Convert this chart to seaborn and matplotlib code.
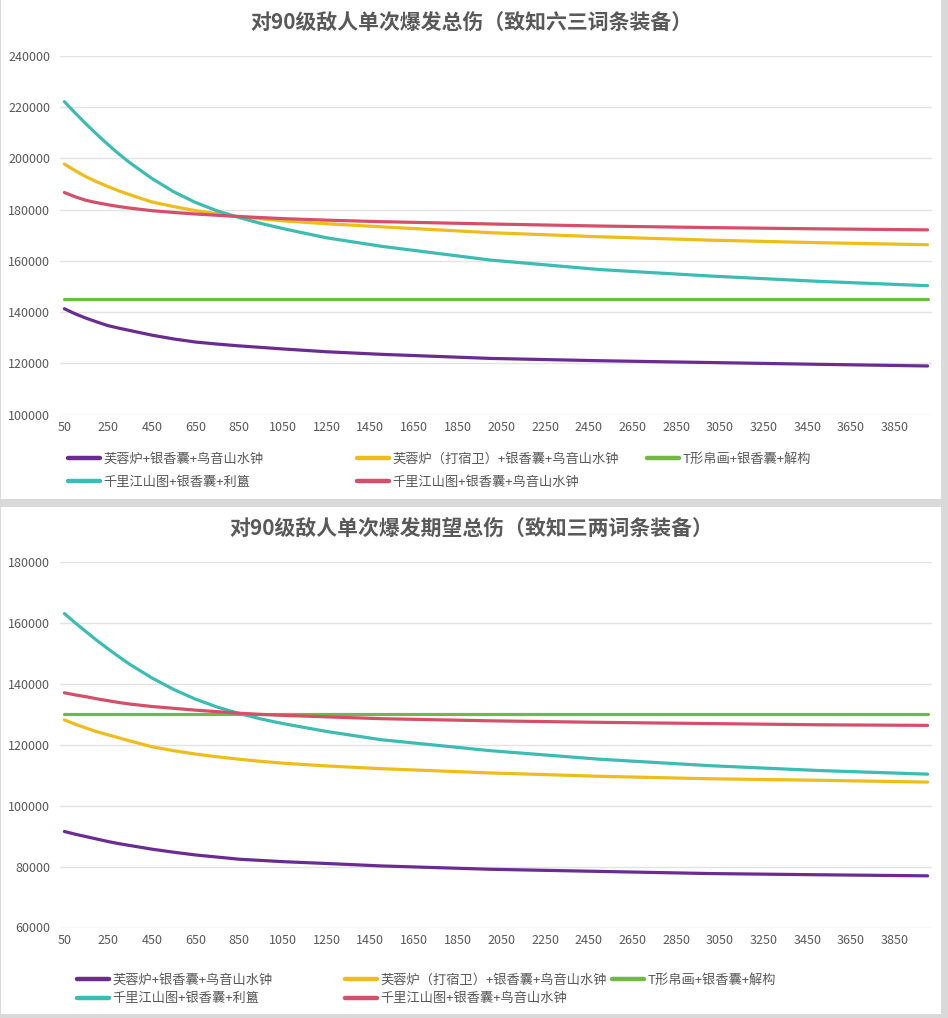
import numpy as np
import pandas as pd
import matplotlib
matplotlib.use("Agg")
import matplotlib.pyplot as plt
from matplotlib.patches import Rectangle
from matplotlib.lines import Line2D
import seaborn as sns

sns.set_theme(style="white")
plt.rcParams['font.family'] = ['Noto Sans CJK SC', 'DejaVu Sans']

#### 0. data
x_pts = [50, 100, 150, 200, 250, 300, 350, 450, 550, 650, 750, 850, 950, 1050, 1250, 1500, 2000, 2500, 3000, 3500, 4000]

names = ["芙蓉炉+银香囊+鸟音山水钟", "芙蓉炉（打宿卫）+银香囊+鸟音山水钟", "T形帛画+银香囊+解构",
         "千里江山图+银香囊+利簋", "千里江山图+银香囊+鸟音山水钟"]
colors = ["#6a2c91", "#efbd1b", "#72b843", "#3cbcb2", "#d4506a"]

title_top = "对90级敌人单次爆发总伤（致知六三词条装备）"
title_bot = "对90级敌人单次爆发期望总伤（致知三两词条装备）"

# 致知六三
top_purple = [141300, 139300, 137600, 136100, 134700, 133700, 132800, 131000, 129500, 128300, 127500, 126800, 126200, 125600,
              124500, 123500, 121900, 121000, 120300, 119600, 118950]
top_yellow = [197800, 195200, 192800, 190800, 189000, 187300, 185800, 183000, 181200, 179600, 178400, 177300, 176400, 175600,
              174500, 173300, 171000, 169400, 168100, 167100, 166300]
top_green = [145000] * len(x_pts)
top_teal = [222200, 217700, 213400, 209300, 205400, 201700, 198300, 192200, 187000, 182800, 179500, 176900, 174600, 172600,
            169000, 165700, 160300, 156600, 154100, 152000, 150300]
top_red = [186700, 185000, 183600, 182700, 181900, 181200, 180600, 179600, 178900, 178300, 177800, 177300, 176900, 176500,
           175900, 175300, 174400, 173600, 173000, 172500, 172100]

# 致知三两
bot_purple = [91500, 90600, 89800, 89000, 88200, 87500, 86900, 85700, 84700, 83800, 83100, 82400, 82000, 81600,
              81000, 80200, 79100, 78400, 77700, 77300, 76950]
bot_yellow = [128100, 126700, 125400, 124200, 123200, 122200, 121200, 119300, 118000, 116900, 116000, 115200, 114500, 113900,
              113000, 112100, 110700, 109600, 108800, 108300, 107700]
bot_green = [130000] * len(x_pts)
bot_teal = [163000, 159900, 157000, 154100, 151400, 148800, 146300, 141900, 138100, 134900, 132300, 130200, 128400, 126900,
            124300, 121600, 118000, 115200, 113100, 111500, 110300]
bot_red = [137000, 136300, 135700, 135000, 134400, 133800, 133300, 132500, 131900, 131300, 130800, 130300, 129900, 129600,
           129100, 128500, 127800, 127300, 126900, 126500, 126300]

W, H = 948, 1018
txt = '#595959'


def fx(x):
    return x / W


def fy(y):
    return 1 - y / H


def draw(ax, series, ylo, yhi, step, title, ty):
    df = pd.concat([pd.DataFrame({'x': x_pts, 'v': s, 'name': n}) for n, s in zip(names, series)])
    sns.lineplot(data=df, x='x', y='v', hue='name', hue_order=names,
                 palette=dict(zip(names, colors)), linewidth=2.3, legend=False, ax=ax,
                 solid_joinstyle='round', solid_capstyle='round')
    ax.set_xlim(30, 4020)
    ax.set_ylim(ylo, yhi)
    ax.set_yticks(np.arange(ylo, yhi + 1, step))
    ax.set_xticks(np.arange(50, 4000, 200))
    ax.yaxis.grid(True, color='#e3e3e3', linewidth=1)
    ax.xaxis.grid(False)
    for sp in ax.spines.values():
        sp.set_visible(False)
    ax.tick_params(axis='both', length=0, labelsize=9, colors=txt)
    ax.tick_params(axis='x', pad=5)
    ax.tick_params(axis='y', pad=7)
    ax.set_xlabel('')
    ax.set_ylabel('')
    ax.set_facecolor('none')
    fig.text(0.4975, fy(ty), title, ha='center', va='center', fontsize=15,
             fontweight='bold', color=txt)


def legends(cols_x, top_y, spacing):
    handles = [Line2D([], [], color=c, lw=3.2) for c in colors]
    for xs, idx in zip(cols_x, [[0, 3], [1, 4], [2]]):
        fig.legend([handles[i] for i in idx], [names[i] for i in idx],
                   loc='upper left', bbox_to_anchor=(fx(xs), fy(top_y)),
                   frameon=False, borderpad=0, borderaxespad=0, fontsize=9.5,
                   handlelength=2.4, handletextpad=0.3, labelspacing=spacing,
                   labelcolor=txt)


fig = plt.figure(figsize=(W / 100, H / 100), dpi=100, facecolor='#d9d9d9')
# two white cards
fig.add_artist(Rectangle((fx(1), fy(499)), fx(940), 499 / H, transform=fig.transFigure,
                         facecolor='white', edgecolor='none', zorder=-10))
fig.add_artist(Rectangle((fx(1), fy(1014)), fx(940), 507 / H, transform=fig.transFigure,
                         facecolor='white', edgecolor='none', zorder=-10))

ax1 = fig.add_axes([fx(60), fy(414.5), fx(872), 358.5 / H])
draw(ax1, [top_purple, top_yellow, top_green, top_teal, top_red], 100000, 240000, 20000, title_top, 23)
legends([68, 357, 647], 453, 0.75)

ax2 = fig.add_axes([fx(60), fy(927.5), fx(872), 365.8 / H])
draw(ax2, [bot_purple, bot_yellow, bot_green, bot_teal, bot_red], 60000, 180000, 20000, title_bot, 528)
legends([77, 345, 612], 974, 0.40)

fig.savefig('out.png', dpi=100, facecolor=fig.get_facecolor())
